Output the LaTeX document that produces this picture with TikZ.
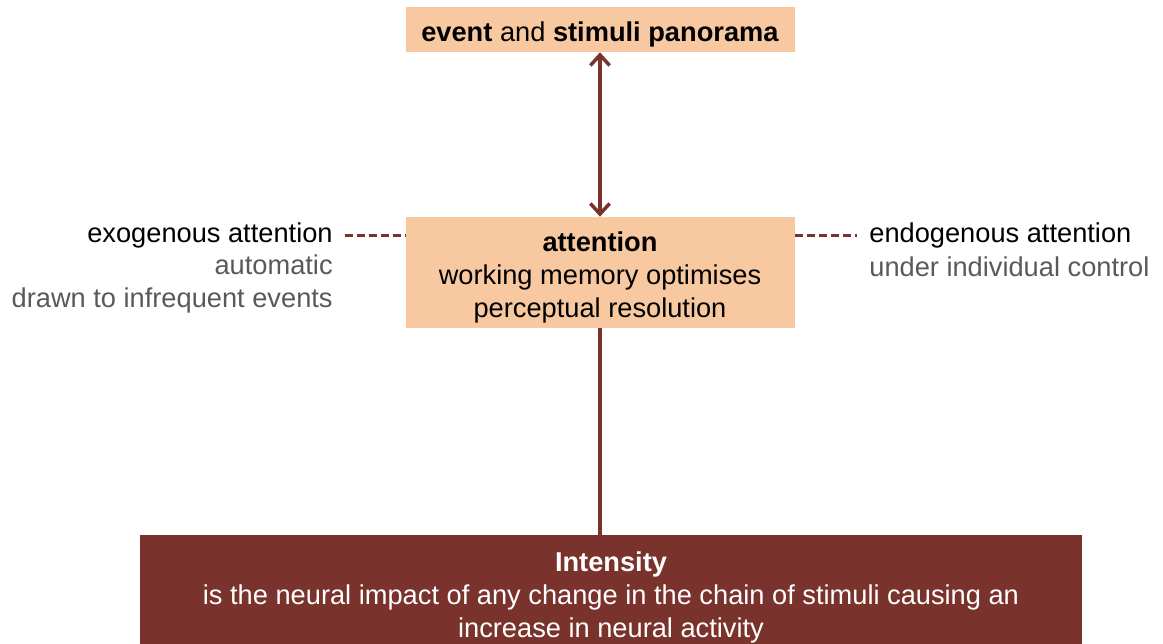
\documentclass[tikz,border=0pt]{standalone}
\usepackage{fontspec}
\setmainfont{Liberation Sans}
\usetikzlibrary{arrows.meta}
\definecolor{peach}{HTML}{F8C8A0}
\definecolor{maroon}{HTML}{79332C}
\definecolor{greytext}{HTML}{595959}
\newcommand{\lowerstrut}{\rule{0pt}{16.8pt}}
\begin{document}
\begin{tikzpicture}[
    every node/.style={font=\fontsize{15.5}{18.6}\selectfont},
    peachbox/.style={fill=peach, align=center, minimum width=7.78cm, inner sep=0pt},
    side/.style={inner sep=0pt},
    link/.style={draw=maroon, line width=2pt},
    dashlink/.style={draw=maroon, line width=2pt, dash pattern=on 0.16cm off 0.08cm}
  ]
  \useasboundingbox (0,0) rectangle (23.26,12.88);
  \node[peachbox, minimum height=0.9cm] (pan) at (12,12.29) {\lowerstrut\textbf{event} and \textbf{stimuli panorama}};
  \node[peachbox, minimum height=2.22cm] (att) at (12,7.43) {\lowerstrut\textbf{attention}\\working memory optimises\\perceptual resolution};
  \node[fill=maroon, text=white, align=center, minimum width=18.84cm, minimum height=2.3cm, inner sep=0pt] (int) at (12.22,1.03) {\lowerstrut\textbf{Intensity}\\is the neural impact of any change in the chain of stimuli causing an\\increase in neural activity};
  \node[side, anchor=east] (exo) at (6.66,8.17) {exogenous attention};
  \node[side, anchor=east, text=greytext, align=right] (exodesc) at (6.66,7.2) {automatic\\drawn to infrequent events};
  \node[side, anchor=west] (endo) at (17.38,8.17) {endogenous attention};
  \node[side, anchor=west, text=greytext] (endodesc) at (17.38,7.55) {under individual control};
  \draw[link, {Straight Barb[length=6pt,width=11pt]}-{Straight Barb[length=6pt,width=11pt]}] (pan) -- (att);
  \draw[link] (att) -- (att |- int.north);
  \draw[dashlink] ([xshift=0.24cm]exo.east) -- (exo.east -| att.west);
  \draw[dashlink] (att.east |- endo.west) -- ([xshift=-0.24cm]endo.west);
\end{tikzpicture}
\end{document}
